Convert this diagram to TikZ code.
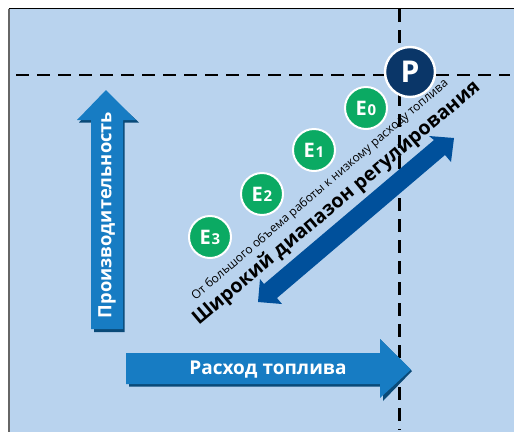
\documentclass[tikz,border=0pt]{standalone}
\usepackage{fontspec}
\setmainfont{Open Sans}
\definecolor{bgblue}{HTML}{B9D3EE}
\definecolor{arrowblue}{HTML}{177CC3}
\definecolor{shadowblue}{HTML}{0A4A78}
\definecolor{rangeblue}{HTML}{00509B}
\definecolor{pnavy}{HTML}{0A3668}
\definecolor{egreen}{HTML}{0BAA63}
\tikzset{
  x=1pt,y=-1pt,
  guide/.style={black,line width=2.4pt,dash pattern=on 13pt off 8pt},
  ecircle/.style={circle,draw=white,line width=2pt,fill=egreen,text=white,minimum size=42pt,inner sep=0pt,font=\bfseries\fontsize{20}{20}\selectfont},
  pcircle/.style={circle,draw=white,line width=2.4pt,fill=pnavy,text=white,minimum size=50pt,inner sep=0pt,font=\bfseries\fontsize{30}{30}\selectfont},
  arrowlabel/.style={text=white,inner sep=0pt},
}
\newcommand{\sdig}[1]{\kern0.8pt{\fontsize{15}{15}\selectfont #1}}
\begin{document}
\begin{tikzpicture}
\useasboundingbox (0,0) rectangle (514,432);
\fill[white] (0,0) rectangle (514,432);
\fill[bgblue] (9,9) rectangle (514,432);
\draw[black,line width=1pt] (8.5,8.5) -- (514,8.5);
\draw[black!60,line width=1.2pt] (9,8.5) -- (9,432);
% guides
\coordinate (hs) at (16,75);
\coordinate (he) at (510,75);
\coordinate (vs) at (399.5,9);
\coordinate (ve) at (399.5,430);
\draw[guide] (hs) -- (he);
\draw[guide] (vs) -- (ve);
% up arrow
\fill[shadowblue] (94,332) -- (94,122.5) -- (79,122.5) -- (106,92) -- (139,122.5) -- (124.5,122.5) -- (124.5,332) -- cycle;
\fill[arrowblue] (91,329) -- (91,120) -- (77,120) -- (106,90) -- (136,120) -- (123,120) -- (123,329) -- cycle;
\node[arrowlabel,rotate=90,font=\bfseries\fontsize{18.3}{18.3}\selectfont] (perf) at (107,215) {Производительность};
% right arrow
\fill[shadowblue] (129,386.5) -- (383,386.5) -- (383,401) -- (412,371) -- (380,339) -- (380,355) -- (129,355) -- cycle;
\fill[arrowblue] (126,384) -- (380,384) -- (380,398) -- (411,369.5) -- (380,339) -- (380,353) -- (126,353) -- cycle;
\node[arrowlabel,font=\bfseries\fontsize{19}{19}\selectfont] (fuel) at (268,370) {Расход топлива};
% double arrow
\fill[rangeblue] (454,138) -- (451,162) -- (445,155) -- (277,298) -- (282,304) -- (258,302) -- (260,279) -- (264,284) -- (434,140) -- (429,136) -- cycle;
% rotated text
\node[rotate=40.5,inner sep=0pt,font=\fontsize{12}{12}\selectfont] (small) at (320,190) {От большого объема работы к низкому расходу топлива};
\node[rotate=40,inner sep=0pt,font=\bfseries\fontsize{19.6}{19.6}\selectfont] (wide) at (336.5,203.5) {Широкий диапазон регулирования};
% circles
\node[pcircle] (P) at (410,72) {P};
\node[ecircle] (E0) at (366,108) {E\sdig{0}};
\node[ecircle] (E1) at (314,150) {E\sdig{1}};
\node[ecircle] (E2) at (262,194) {E\sdig{2}};
\node[ecircle] (E3) at (210,237) {E\sdig{3}};
\end{tikzpicture}
\end{document}
